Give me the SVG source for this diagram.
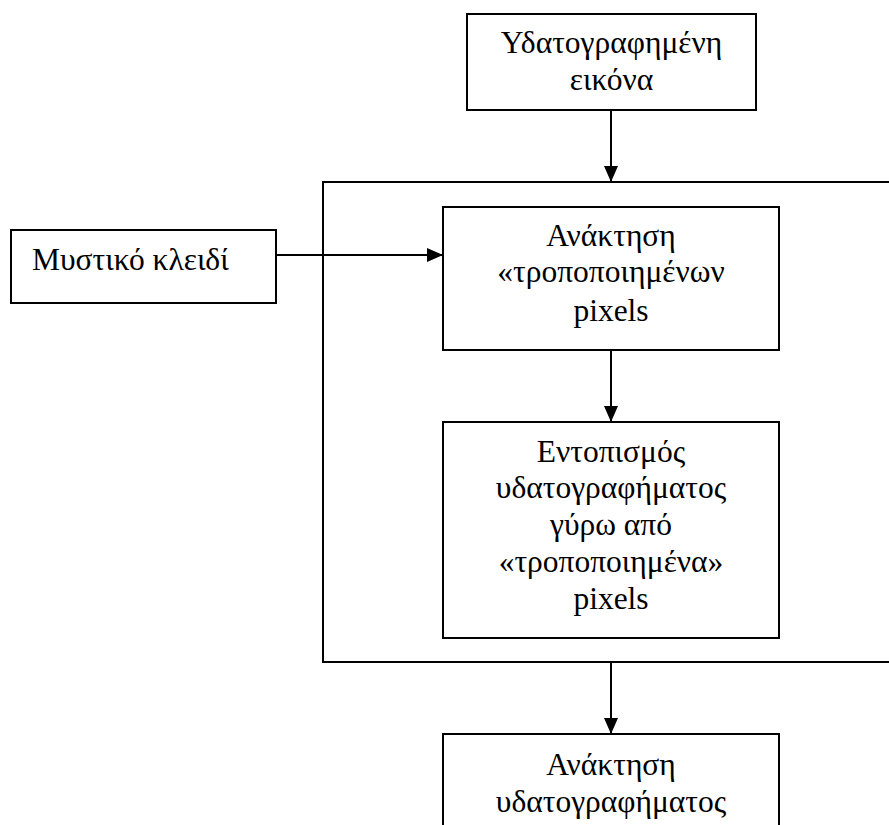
<svg xmlns="http://www.w3.org/2000/svg" width="889" height="825" viewBox="0 0 889 825">
<style>
.box{fill:#fff;stroke:#000;stroke-width:2}
.frame{fill:none;stroke:#000;stroke-width:2}
.conn{fill:none;stroke:#000;stroke-width:2}
text{font-family:"Liberation Serif","Times New Roman",serif;font-size:31.5px;fill:#000}
.c{text-anchor:middle}
</style>
<defs>
<marker id="arr" markerUnits="userSpaceOnUse" markerWidth="16" markerHeight="14" refX="16" refY="7" orient="auto">
<path d="M0,0 L16,7 L0,14 z" fill="#000"/>
</marker>
</defs>
<rect width="889" height="825" fill="#fff"/>
<g id="frame">
<rect class="frame" x="323" y="182" width="600" height="480"/>
</g>
<g id="connectors">
<path class="conn" d="M611,110 L611,182" marker-end="url(#arr)"/>
<path class="conn" d="M276,255 L443,255" marker-end="url(#arr)"/>
<path class="conn" d="M611,350 L611,422" marker-end="url(#arr)"/>
<path class="conn" d="M611,662 L611,734" marker-end="url(#arr)"/>
</g>
<g id="watermarked-image">
<rect class="box" x="467" y="14" width="289" height="96"/>
<text class="c" x="611.5" y="53">Υδατογραφημένη</text>
<text class="c" x="611.5" y="90">εικόνα</text>
</g>
<g id="secret-key">
<rect class="box" x="11" y="230" width="265" height="73"/>
<text x="32" y="270">Μυστικό κλειδί</text>
</g>
<g id="recover-pixels">
<rect class="box" x="443" y="207" width="336" height="143"/>
<text class="c" x="611" y="246">Ανάκτηση</text>
<text class="c" x="611" y="282">«τροποποιημένων</text>
<text class="c" x="611" y="321">pixels</text>
</g>
<g id="locate-watermark">
<rect class="box" x="443" y="422" width="336" height="216"/>
<text class="c" x="611" y="462">Εντοπισμός</text>
<text class="c" x="611" y="498">υδατογραφήματος</text>
<text class="c" x="611" y="535">γύρω από</text>
<text class="c" x="611" y="572">«τροποποιημένα»</text>
<text class="c" x="611" y="609">pixels</text>
</g>
<g id="recover-watermark">
<rect class="box" x="443" y="734" width="336" height="120"/>
<text class="c" x="611" y="775">Ανάκτηση</text>
<text class="c" x="611" y="812">υδατογραφήματος</text>
</g>
</svg>
